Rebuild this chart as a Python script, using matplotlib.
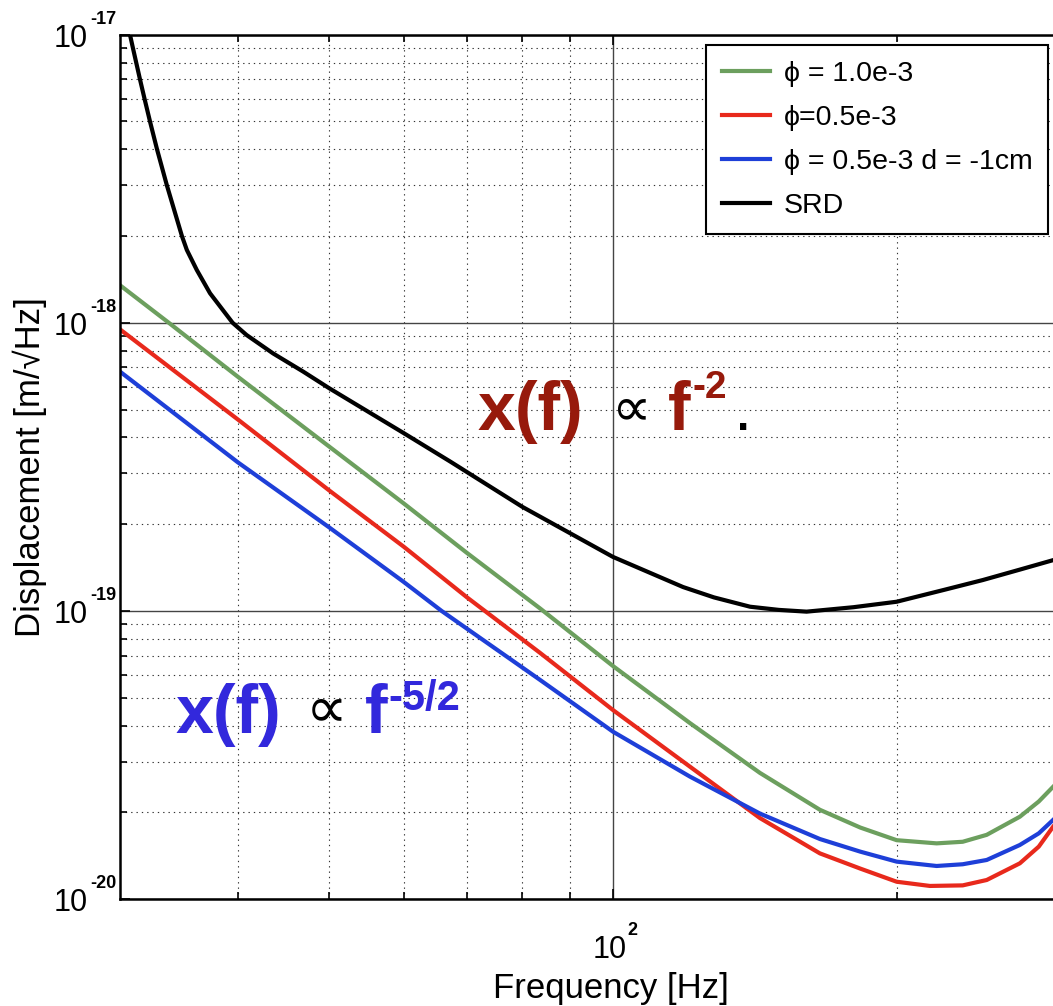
import matplotlib
matplotlib.use('Agg')
import matplotlib.pyplot as plt
from matplotlib import transforms
from matplotlib.ticker import FixedLocator, NullFormatter

# ---------------- data ----------------
freq_green = [30.0, 33.8, 40.0, 50.0, 60.0, 70.0, 83.7, 100.0, 120.7, 143.2, 165.8, 183.0, 200.0, 220.5, 235.0,
              249.2, 270.2, 283.0, 293.0]
disp_green = [1.35e-18, 1.0e-18, 6.5e-19, 3.72e-19, 2.36e-19, 1.59e-19, 1.02e-19, 6.44e-20, 4.08e-20, 2.74e-20,
              2.04e-20, 1.77e-20, 1.60e-20, 1.56e-20, 1.58e-20, 1.67e-20, 1.93e-20, 2.18e-20, 2.45e-20]

freq_red = [30.0, 40.0, 50.0, 60.0, 70.0, 83.7, 100.0, 120.7, 143.2, 165.8, 183.0, 200.0, 216.9, 235.0, 249.2,
            270.2, 283.0, 293.0]
disp_red = [9.49e-19, 4.62e-19, 2.62e-19, 1.67e-19, 1.115e-19, 7.15e-20, 4.53e-20, 2.88e-20, 1.91e-20, 1.44e-20,
            1.275e-20, 1.148e-20, 1.11e-20, 1.115e-20, 1.164e-20, 1.33e-20, 1.52e-20, 1.78e-20]

freq_blue = [30.0, 40.0, 50.0, 60.0, 65.8, 83.7, 100.0, 120.7, 143.2, 165.8, 183.0, 200.0, 220.5, 235.0, 249.2,
             270.2, 283.0, 293.0]
disp_blue = [6.77e-19, 3.28e-19, 1.95e-19, 1.26e-19, 1.0e-19, 5.76e-20, 3.81e-20, 2.66e-20, 1.98e-20, 1.615e-20,
             1.46e-20, 1.348e-20, 1.302e-20, 1.32e-20, 1.366e-20, 1.54e-20, 1.69e-20, 1.88e-20]

freq_srd = [30.74, 30.96, 31.50, 31.85, 32.28, 32.84, 33.64, 34.90, 35.32, 36.19, 37.38, 39.5, 40.87, 43.6,
            46.93, 50.0, 60.0, 67.2, 80.1, 100.0, 118.7, 128.0, 139.8, 150.0, 160.5, 180.0, 200.0, 225.0, 246.9,
            270.0, 293.0]
disp_srd = [1.0e-17, 9.0e-18, 7.0e-18, 6.0e-18, 5.0e-18, 4.0e-18, 3.0e-18, 2.0e-18, 1.79e-18, 1.525e-18,
            1.266e-18, 1.0e-18, 9.07e-19, 7.83e-19, 6.77e-19, 5.93e-19, 4.14e-19, 3.30e-19, 2.30e-19, 1.54e-19,
            1.21e-19, 1.114e-19, 1.034e-19, 1.008e-19, 9.94e-20, 1.03e-19, 1.076e-19, 1.185e-19, 1.28e-19,
            1.39e-19, 1.50e-19]

labels = ['ϕ = 1.0e-3', 'ϕ=0.5e-3', 'ϕ = 0.5e-3 d = -1cm', 'SRD']

x_major_ticks = [100]
x_minor_ticks = [40, 50, 60, 70, 80, 90, 200]
x_tick_exps = ['2']
y_major_ticks = [1e-20, 1e-19, 1e-18, 1e-17]
y_tick_exps = ['-20', '-19', '-18', '-17']
y_minor_subs = [2, 3, 4, 5, 6, 7, 8, 9]

# ---------------- style ----------------
FONT = ['Liberation Sans', 'DejaVu Sans']
plt.rcParams['font.family'] = FONT

GREEN = '#6c9f5e'
RED = '#e8291c'
BLUE = '#1e3fd8'
DARKRED = '#971a0c'
TXTBLUE = '#3228dc'

fig = plt.figure(figsize=(10.53, 10.06), dpi=100)
ax = fig.add_axes([120 / 1053, 107 / 1006, 933 / 1053, 864.3 / 1006])
ax.set_xscale('log')
ax.set_yscale('log')

l1, = ax.plot(freq_green, disp_green, color=GREEN, lw=3.0, solid_joinstyle='round', label=labels[0])
l2, = ax.plot(freq_red, disp_red, color=RED, lw=3.0, solid_joinstyle='round', label=labels[1])
l3, = ax.plot(freq_blue, disp_blue, color=BLUE, lw=3.0, solid_joinstyle='round', label=labels[2])
l4, = ax.plot(freq_srd, disp_srd, color='black', lw=3.0, solid_joinstyle='round', label=labels[3])

ax.set_xlim(30, 293)
ax.set_ylim(1e-20, 1e-17)

ax.xaxis.set_major_locator(FixedLocator(x_major_ticks))
ax.xaxis.set_minor_locator(FixedLocator(x_minor_ticks))
ax.xaxis.set_major_formatter(NullFormatter())
ax.xaxis.set_minor_formatter(NullFormatter())
ax.yaxis.set_major_locator(FixedLocator(y_major_ticks))
ax.yaxis.set_minor_locator(FixedLocator([s * d for d in y_major_ticks[:-1] for s in y_minor_subs]))
ax.yaxis.set_major_formatter(NullFormatter())
ax.yaxis.set_minor_formatter(NullFormatter())

ax.grid(True, which='major', color='#444444', lw=1.0, ls='-')
ax.grid(True, which='minor', color='#333333', lw=0.8, ls=(0, (1.2, 3.6)))
ax.set_axisbelow(True)

ax.tick_params(which='both', direction='in', top=True, right=False, bottom=True, left=True,
               labelbottom=False, labelleft=False, width=1.2, color='black')
ax.tick_params(which='major', length=7)
ax.tick_params(which='minor', length=5)
for s in ['left', 'bottom', 'top']:
    ax.spines[s].set_linewidth(1.8)
ax.spines['right'].set_visible(False)

# y tick labels: 10 with raised exponent
ytr = transforms.blended_transform_factory(ax.transAxes, ax.transData)
for v, e in zip(y_major_ticks, y_tick_exps):
    t1 = transforms.offset_copy(ytr, fig=fig, x=0, y=-4, units='dots')
    ax.text(-0.0343, v, '10', transform=t1, ha='right', va='center', fontsize=22)
    t2 = transforms.offset_copy(ytr, fig=fig, x=0, y=11, units='dots')
    ax.text(-0.0322, v, e, transform=t2, ha='left', va='baseline', fontsize=13, fontweight='bold')

xtr = transforms.blended_transform_factory(ax.transData, ax.transAxes)
for v, e in zip(x_major_ticks, x_tick_exps):
    t1 = transforms.offset_copy(xtr, fig=fig, x=-3, y=0, units='dots')
    ax.text(v, -0.0683, '10', transform=t1, ha='center', va='baseline', fontsize=22)
    t2 = transforms.offset_copy(xtr, fig=fig, x=14, y=0, units='dots')
    ax.text(v, -0.0417, e, transform=t2, ha='left', va='baseline', fontsize=13, fontweight='bold')

fig.text(611 / 1053, 8 / 1006, 'Frequency [Hz]', ha='center', va='baseline', fontsize=25)
fig.text(30 / 1053, 1 - 467 / 1006, 'Displacement [m/√Hz]', rotation=90, ha='center', va='center', fontsize=25)

# annotations
A = ax.transAxes
ax.text(0.3837, 0.5428, 'x(f)', transform=A, color=DARKRED, fontsize=49, fontweight='bold', va='baseline')
ax.text(0.526, 0.548, '∝', transform=A, color='black', fontsize=40, family=['DejaVu Sans'], va='baseline')
ax.text(0.5873, 0.5428, 'f', transform=A, color=DARKRED, fontsize=49, fontweight='bold', va='baseline')
ax.text(0.6141, 0.5793, '-2', transform=A, color=DARKRED, fontsize=28, fontweight='bold', va='baseline')
ax.text(0.6613, 0.5428, '.', transform=A, color='black', fontsize=32, fontweight='bold', va='baseline')

ax.text(0.0590, 0.1917, 'x(f)', transform=A, color=TXTBLUE, fontsize=49, fontweight='bold', va='baseline')
ax.text(0.1995, 0.1995, '∝', transform=A, color='black', fontsize=42, family=['DejaVu Sans'], va='baseline')
ax.text(0.2626, 0.1921, 'f', transform=A, color=TXTBLUE, fontsize=49, fontweight='bold', va='baseline')
ax.text(0.2872, 0.2186, '-5/2', transform=A, color=TXTBLUE, fontsize=30, fontweight='bold', va='baseline')

leg = ax.legend(handles=[l1, l2, l3, l4], loc='upper right', bbox_to_anchor=(0.9946, 0.988),
                frameon=True, fancybox=False, edgecolor='black', framealpha=1, fontsize=20.5,
                handlelength=1.68, handletextpad=0.49, borderpad=0.55, labelspacing=0.63, borderaxespad=0)
leg.get_frame().set_linewidth(1.5)

fig.savefig('out.png', dpi=100)
